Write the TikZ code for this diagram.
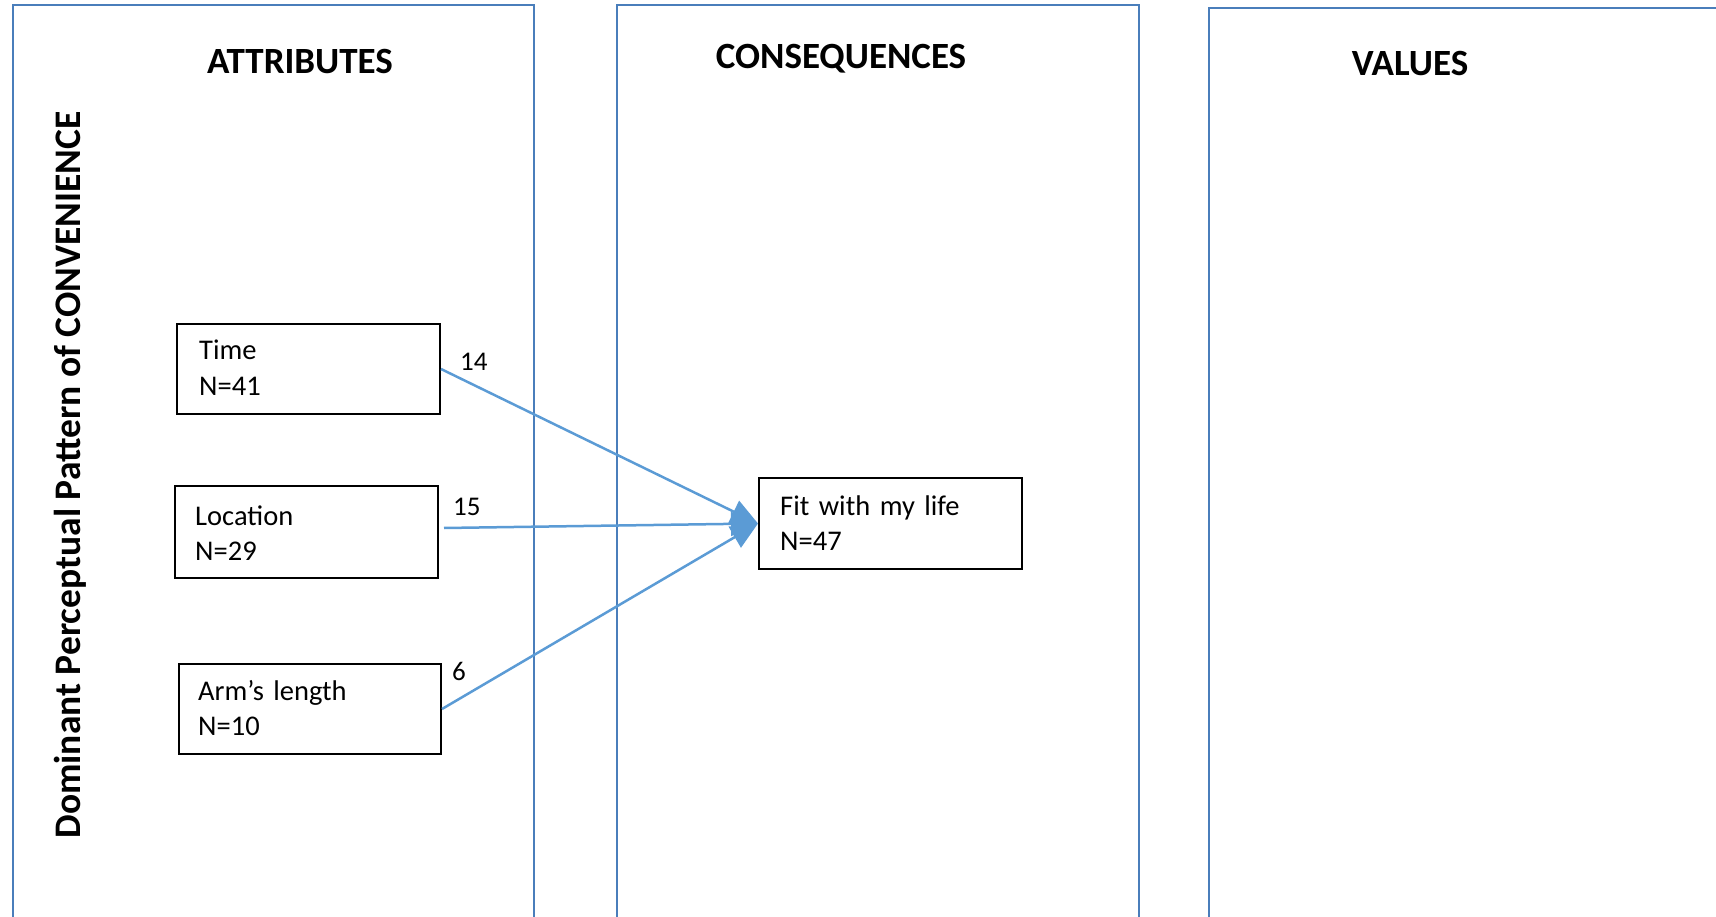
\documentclass[tikz,border=0pt]{standalone}
\usepackage{fontspec}
\setmainfont{Carlito}
\usetikzlibrary{arrows.meta}
\definecolor{panelblue}{HTML}{4A7EBB}
\definecolor{linkblue}{HTML}{5B9BD5}
\begin{document}
\begin{tikzpicture}[x=1pt,y=-1pt,
  panel/.style={draw=panelblue,line width=2pt},
  title/.style={font=\fontsize{37}{44}\selectfont\bfseries,anchor=base,inner sep=0pt},
  cbox/.style={draw=black,line width=2pt,anchor=north west,inner sep=0pt,fill=white},
  ctext/.style={font=\fontsize{28.5}{35.5}\selectfont,align=left,text width=225pt,
    inner sep=0pt,anchor=base west},
  lbl/.style={font=\fontsize{27}{32}\selectfont,inner sep=0pt,anchor=base west},
  link/.style={draw=linkblue,line width=2.5pt,-{Triangle[length=27pt,width=24pt]}}]
\useasboundingbox (0,0) rectangle (1716,917);
\clip (0,0) rectangle (1716,917);

% three column frames, open at the bottom
\draw[panel] (12.5,930) -- (12.5,5.5) -- (534,5.5) -- (534,930);
\draw[panel] (617,930) -- (617,5.5) -- (1139,5.5) -- (1139,930);
\draw[panel] (1209,930) -- (1209,8.5) -- (1730,8.5) -- (1730,930);

% column headings
\node[title] (hattr) at (300,73.5) {ATTRIBUTES};
\node[title] (hcons) at (841,68.5) {CONSEQUENCES};
\node[title] (hval)  at (1410,76) {VALUES};

% vertical caption
\node[rotate=90,anchor=base,inner sep=0pt,font=\fontsize{37.5}{44}\selectfont\bfseries]
  (pattern) at (80,475) {Dominant Perceptual Pattern of CONVENIENCE};

% attribute boxes
\node[cbox,minimum width=263pt,minimum height=90pt] (time) at (176,323) {};
\node[ctext] (timeT) at ([shift={(23,36.5)}]time.north west) {Time\\N=41};

\node[cbox,minimum width=263pt,minimum height=92pt] (loc) at (174,485) {};
\node[ctext] (locT) at ([shift={(21,40)}]loc.north west) {Location\\N=29};

\node[cbox,minimum width=262pt,minimum height=90pt] (arm) at (178,663) {};
\node[ctext] (armT) at ([shift={(20,37)}]arm.north west) {Arm’s length\\N=10};

% consequence box
\node[cbox,minimum width=263pt,minimum height=91pt] (fit) at (758,477) {};
\node[ctext] (fitT) at ([shift={(22,38)}]fit.north west) {Fit with my life\\N=47};

% links with their counts
\draw[link] (time.east) -- (fit.west);
\draw[link] ([shift={(5,-4)}]loc.east) -- (fit.west);
\draw[link] (arm.east) -- (fit.west);

\node[lbl] (n14) at (460,370) {14};
\node[lbl] (n15) at (453,515) {15};
\node[lbl] (n6)  at (452,680) {6};
\end{tikzpicture}
\end{document}
